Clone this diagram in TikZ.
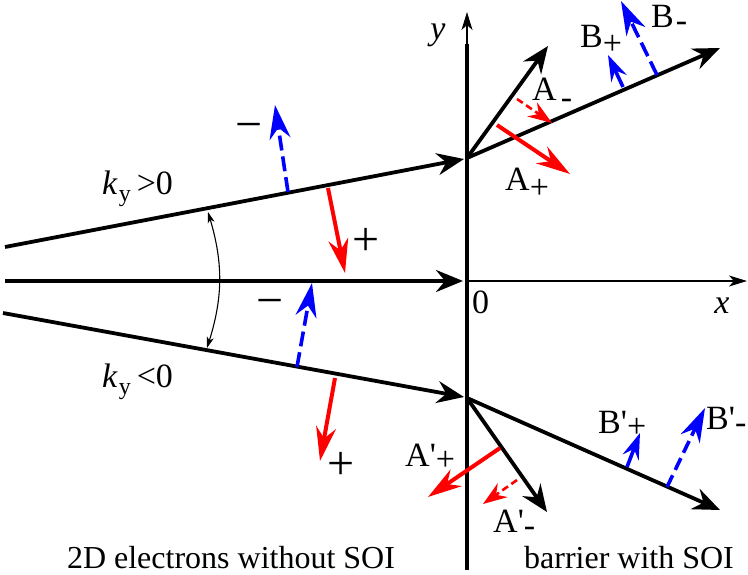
\documentclass[tikz,border=0pt]{standalone}
\usepackage{fontspec}
\setmainfont{Liberation Serif}
\usetikzlibrary{arrows.meta}
\newcommand{\lowsub}[2]{\raisebox{-#1}{#2}}
\begin{document}
\begin{tikzpicture}[x=1pt,y=-1pt,
  lbl/.style={font=\fontsize{34}{38}\selectfont, inner sep=0pt},
  txt/.style={font=\fontsize{32}{36}\selectfont, inner sep=0pt},
  pm/.style={font=\fontsize{48}{50}\selectfont, inner sep=0pt},
  heavy/.style={line width=3.8pt},
  bigtip/.style={-{Stealth[length=27pt,width=22pt,inset=9pt]}},
  axistip/.style={line width=1.5pt,-{Stealth[length=18pt,width=11pt,inset=5pt]}},
  redbig/.style={red, line width=4pt, -{Stealth[length=34pt,width=20pt,inset=11pt]}},
  redsmall/.style={red, line width=2.6pt, dash pattern=on 7pt off 4pt, -{Stealth[length=24pt,width=17pt,inset=8pt]}},
  bluedash/.style={blue, line width=3.6pt, dash pattern=on 15pt off 6pt, -{Stealth[length=34pt,width=21pt,inset=11pt]}},
  bluesmall/.style={blue, line width=3.6pt, -{Stealth[length=26pt,width=17pt,inset=9pt]}},
  anglearc/.style={line width=1.1pt, {Stealth[length=11pt,width=7pt,inset=3pt]}-{Stealth[length=11pt,width=7pt,inset=3pt]}}
]
\useasboundingbox (0,0) rectangle (748,575);

% axes
\coordinate (ybot) at (467,570);
\coordinate (ymid) at (467,44);
\coordinate (ytop) at (467,12);
\coordinate (xl) at (5,281);
\coordinate (xm) at (463,281);
\coordinate (x0) at (467,281);
\coordinate (xr) at (747,281);
\draw[line width=4.5pt] (ybot) -- (ymid);
\draw[axistip] (ymid) -- (ytop);
\draw[heavy, bigtip] (xl) -- (xm);
\draw[axistip] (x0) -- (xr);

% upper beam
\coordinate (U0) at (5,247);
\coordinate (U1) at (464,159);
\coordinate (UJ) at (467,158);
\coordinate (UA) at (548,46);
\coordinate (UB) at (720,48);
\draw[heavy, bigtip] (U0) -- (U1);
\draw[heavy, bigtip] (UJ) -- (UA);
\draw[heavy, bigtip] (UJ) -- (UB);

% lower beam
\coordinate (L0) at (3,313);
\coordinate (L1) at (464,397);
\coordinate (LJ) at (467,398);
\coordinate (LA) at (547,512);
\coordinate (LB) at (720,510);
\draw[heavy, bigtip] (L0) -- (L1);
\draw[heavy, bigtip] (LJ) -- (LA);
\draw[heavy, bigtip] (LJ) -- (LB);

% spin arrows, incident side
\coordinate (ub1) at (288,192); \coordinate (ub2) at (275,105);
\coordinate (ur1) at (328,188); \coordinate (ur2) at (345,273);
\coordinate (lb1) at (297,367); \coordinate (lb2) at (312,283);
\coordinate (lr1) at (335,378); \coordinate (lr2) at (320,461);
\draw[bluedash] (ub1) -- (ub2);
\draw[redbig] (ur1) -- (ur2);
\draw[bluedash] (lb1) -- (lb2);
\draw[redbig] (lr1) -- (lr2);

% spin arrows, outgoing side (upper)
\coordinate (am1) at (517,99); \coordinate (am2) at (552,123);
\coordinate (ap1) at (497,125); \coordinate (ap2) at (570,174);
\coordinate (bp1) at (623,87); \coordinate (bp2) at (608,55);
\coordinate (bm1) at (657,75); \coordinate (bm2) at (621,1);
\draw[redsmall] (am1) -- (am2);
\draw[redbig] (ap1) -- (ap2);
\draw[bluesmall] (bp1) -- (bp2);
\draw[bluedash] (bm1) -- (bm2);

% spin arrows, outgoing side (lower)
\coordinate (lap1) at (500,448); \coordinate (lap2) at (428,497);
\coordinate (lam1) at (517,480); \coordinate (lam2) at (483,504);
\coordinate (lbp1) at (627,467); \coordinate (lbp2) at (640,433);
\coordinate (lbm1) at (667,487); \coordinate (lbm2) at (705,408);
\draw[redbig] (lap1) -- (lap2);
\draw[redsmall] (lam1) -- (lam2);
\draw[bluesmall] (lbp1) -- (lbp2);
\draw[bluedash, dash pattern=on 13pt off 6pt] (lbm1) -- (lbm2);

% angle arc
\coordinate (arcT) at (208,212);
\coordinate (arcB) at (207,348);
\draw[anglearc] (arcT) to[bend left=17] (arcB);

% labels
\node[lbl, anchor=base] (ylab) at (438,40) {\textit{y}};
\node[lbl, anchor=base west] (zero) at (472,313) {0};
\node[lbl, anchor=base] (xlab) at (722,313) {\textit{x}};

\node[lbl, anchor=base west] (kpos) at (102,195) {\textit{k}\kern1pt\lowsub{7pt}{\fontsize{24}{24}\selectfont y}\kern6pt>0};
\node[lbl, anchor=base west] (kneg) at (102,387) {\textit{k}\kern1pt\lowsub{7pt}{\fontsize{24}{24}\selectfont y}\kern6pt<0};

\node[pm] (um) at (249,132) {−};
\node[pm] (up) at (366,242) {+};
\node[pm] (lm) at (270,308) {−};
\node[pm] (lp) at (341,466) {+};

\node[lbl, anchor=base west] (Am) at (532,101) {A\kern4pt\lowsub{8pt}{-}};
\node[lbl, anchor=base west] (Ap) at (505,191) {A\lowsub{8pt}{+}};
\node[lbl, anchor=base west] (Bp) at (580,48) {B\lowsub{7pt}{+}};
\node[lbl, anchor=base west] (Bm) at (651,28) {B\kern2pt\lowsub{4pt}{-}};

\node[lbl, anchor=base west] (Apr) at (405,466) {A\textquotesingle\lowsub{4pt}{+}};
\node[lbl, anchor=base west] (Amr) at (493,532) {A\textquotesingle\lowsub{4pt}{-}};
\node[lbl, anchor=base west] (Bpr) at (598,433) {B\textquotesingle\lowsub{4pt}{+}};
\node[lbl, anchor=base west] (Bmr) at (706,429) {B\textquotesingle\lowsub{4pt}{-}};

\node[txt, anchor=base] (t1) at (231,568) {2D electrons without SOI};
\node[txt, anchor=base] (t2) at (629,568) {barrier with SOI};
\end{tikzpicture}
\end{document}
